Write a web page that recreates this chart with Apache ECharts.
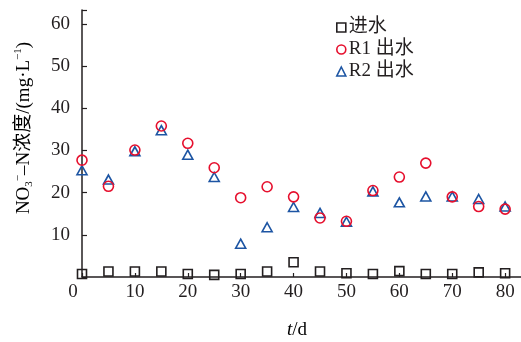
<!DOCTYPE html>
<html>
<head>
<meta charset="utf-8">
<script src="https://cdn.jsdelivr.net/npm/echarts@6/dist/echarts.min.js"></script>
<style>
  html, body { margin: 0; padding: 0; background: #fff; }
  #chart { width: 521px; height: 342px; }
</style>
</head>
<body>
<div id="chart"></div>
<script>
// Sampling days
const days = [0, 5, 10, 15, 20, 25, 30, 35, 40, 45, 50, 55, 60, 65, 70, 75, 80];
// NO3--N concentration (mg/L)
const influent = [0.7, 1.3, 1.3, 1.3, 0.7, 0.5, 0.7, 1.3, 3.5, 1.3, 0.9, 0.7, 1.4, 0.7, 0.7, 1.1, 0.9];
const r1Effluent = [27.7, 21.5, 30.1, 35.8, 31.7, 25.9, 18.8, 21.4, 19.0, 14.0, 13.2, 20.5, 23.7, 27.0, 19.0, 16.7, 16.1];
const r2Effluent = [25.3, 23.1, 29.8, 34.8, 29.0, 23.7, 7.9, 11.8, 16.6, 15.2, 13.1, 20.3, 17.7, 19.1, 19.1, 18.5, 16.7];
const seriesNames = ['进水', 'R1 出水', 'R2 出水'];

const FONT = '"Liberation Serif", "Noto Sans CJK SC", serif';
const INK = '#231f20';
const colors = [INK, '#e60f2d', '#1d55a3'];
const symbols = ['rect', 'circle', 'triangle'];

function pairs(vals) { return days.map((d, i) => [d, vals[i]]); }

const chart = echarts.init(document.getElementById('chart'), null, { renderer: 'canvas' });

const seriesData = [influent, r1Effluent, r2Effluent];
const series = seriesData.map((vals, k) => ({
  name: seriesNames[k],
  type: 'scatter',
  symbol: symbols[k],
  symbolSize: k === 2 ? [10, 9] : (k === 0 ? 9 : 10),
  data: pairs(vals),
  itemStyle: { color: 'rgba(0,0,0,0)', borderColor: colors[k], borderWidth: 1.6, opacity: 1 },
  emphasis: { disabled: true },
  z: 3 - k
}));

chart.setOption({
  animation: false,
  backgroundColor: '#fff',
  grid: { left: 82, right: 0, top: 10, bottom: 65, containLabel: false },
  legend: {
    orient: 'vertical',
    left: 336,
    top: 18,
    padding: 0,
    itemWidth: 9,
    itemHeight: 9,
    itemGap: 3,
    textStyle: { fontFamily: FONT, fontSize: 19, color: INK, padding: [0, 0, 0, -2] },
    data: seriesNames.map((n, k) => ({
      name: n,
      icon: symbols[k],
      itemStyle: { color: 'rgba(0,0,0,0)', borderColor: colors[k], borderWidth: 1.6 }
    }))
  },
  xAxis: {
    type: 'value',
    min: 0,
    max: 83,
    interval: 10,
    splitLine: { show: false },
    axisLine: { lineStyle: { color: INK, width: 1.5 } },
    axisTick: { inside: true, length: 4, lineStyle: { color: INK, width: 1.2 } },
    axisLabel: {
      margin: 6,
      fontFamily: FONT,
      fontSize: 19,
      color: INK,
      showMaxLabel: false,
      formatter: v => v === 0 ? '{z|0}' : String(v),
      rich: { z: { fontFamily: FONT, fontSize: 19, color: INK, padding: [0, 18, 0, 0] } }
    }
  },
  yAxis: {
    type: 'value',
    min: 0,
    max: 63.3,
    interval: 10,
    splitLine: { show: false },
    axisLine: { lineStyle: { color: INK, width: 1.5 } },
    axisTick: { inside: true, length: 5, lineStyle: { color: INK, width: 1.2 } },
    axisLabel: {
      margin: 12,
      fontFamily: FONT,
      fontSize: 19,
      color: INK,
      formatter: v => (v === 0 || v % 10 !== 0) ? '' : String(v)
    }
  },
  graphic: [
    {
      type: 'text',
      x: 24,
      y: 128,
      rotation: Math.PI / 2,
      style: {
        text: '{a|NO}{sub|3}{sup|−}{a|–N浓度/(mg·L}{sup|−1}{a|)}',
        align: 'center',
        verticalAlign: 'middle',
        rich: {
          a: { fontFamily: FONT, fontSize: 19, color: INK, lineHeight: 22, verticalAlign: 'middle' },
          sub: { fontFamily: FONT, fontSize: 11, color: INK, lineHeight: 22, verticalAlign: 'bottom', padding: [9, 0, 0, 0] },
          sup: { fontFamily: FONT, fontSize: 11, color: INK, lineHeight: 22, verticalAlign: 'top', padding: [0, 0, 9, 0] }
        }
      }
    },
    {
      type: 'text',
      x: 297,
      y: 330,
      style: {
        text: '{i|t}{a|/d}',
        align: 'center',
        verticalAlign: 'middle',
        rich: {
          i: { fontFamily: FONT, fontSize: 19, fontStyle: 'italic', color: INK },
          a: { fontFamily: FONT, fontSize: 19, color: INK }
        }
      }
    }
  ],
  series: series
});
</script>
</body>
</html>
